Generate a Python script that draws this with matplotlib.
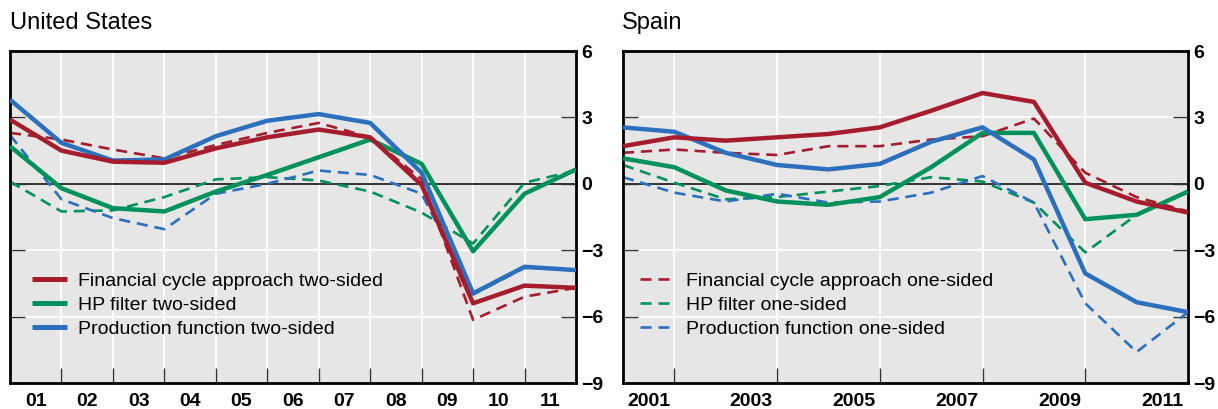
import matplotlib
matplotlib.use("Agg")
import matplotlib.pyplot as plt
from matplotlib.lines import Line2D

plt.rcParams['font.family'] = ['Liberation Sans', 'DejaVu Sans']

years = list(range(2001, 2013))  # data points at year boundaries
us_labels = ["01", "02", "03", "04", "05", "06", "07", "08", "09", "10", "11"]
es_labels = ["2001", "", "2003", "", "2005", "", "2007", "", "2009", "", "2011"]

# United States
us_fc_two = [2.9, 1.5, 1.0, 0.95, 1.6, 2.1, 2.45, 2.1, -0.05, -5.4, -4.6, -4.7]
us_fc_one = [2.3, 2.0, 1.55, 1.15, 1.75, 2.3, 2.75, 2.1, 0.2, -6.15, -5.1, -4.7]
us_hp_two = [1.7, -0.2, -1.1, -1.25, -0.35, 0.4, 1.2, 2.0, 0.9, -3.05, -0.45, 0.65]
us_hp_one = [0.1, -1.25, -1.2, -0.6, 0.2, 0.3, 0.15, -0.35, -1.3, -2.7, 0.05, 0.6]
us_pf_two = [3.8, 1.85, 1.05, 1.1, 2.15, 2.85, 3.15, 2.75, 0.5, -4.95, -3.75, -3.9]
us_pf_one = [2.2, -0.7, -1.55, -2.05, -0.45, 0.0, 0.6, 0.4, -0.45, -5.0, -3.8, -3.9]

# Spain
es_fc_two = [1.7, 2.1, 1.95, 2.1, 2.25, 2.55, 3.3, 4.1, 3.7, 0.05, -0.8, -1.3]
es_fc_one = [1.4, 1.55, 1.4, 1.3, 1.7, 1.7, 2.0, 2.15, 2.95, 0.5, -0.6, -1.25]
es_hp_two = [1.15, 0.75, -0.3, -0.8, -0.95, -0.6, 0.75, 2.3, 2.3, -1.6, -1.4, -0.35]
es_hp_one = [0.85, 0.05, -0.7, -0.6, -0.35, -0.1, 0.3, 0.1, -0.85, -3.1, -1.4, -0.35]
es_pf_two = [2.55, 2.35, 1.4, 0.85, 0.65, 0.9, 1.9, 2.55, 1.1, -4.05, -5.35, -5.8]
es_pf_one = [0.3, -0.4, -0.8, -0.45, -0.85, -0.8, -0.4, 0.35, -0.85, -5.4, -7.6, -5.8]

RED = "#a51d2d"
GREEN = "#00925a"
BLUE = "#2b6fbd"
BG = "#e6e6e6"

W, H = 1218, 409
fig = plt.figure(figsize=(W / 100, H / 100), dpi=100)

def make_ax(x0, x1, y0, y1):
    return fig.add_axes([x0 / W, 1 - y1 / H, (x1 - x0) / W, (y1 - y0) / H])

ax1 = make_ax(10, 576, 51, 383)
ax2 = make_ax(623, 1188, 51, 383)

def style(ax, labels, grid_every):
    ax.set_facecolor(BG)
    ax.set_xlim(2001, 2012)
    ax.set_ylim(-9, 6)
    for s in ax.spines.values():
        s.set_color("black")
        s.set_linewidth(2.0)
    for v in [3, -3, -6]:
        ax.axhline(v, color="white", lw=1.3, zorder=0.5)
    ax.axhline(0, color="#333333", lw=1.4, zorder=0.6)
    gx = [y for y in range(2002, 2012) if (y - 2002) % grid_every == 0]
    for x in gx:
        ax.axvline(x, color="white", lw=1.3, zorder=0.5)
    ax.set_xticks(gx)
    ax.set_xticklabels([])
    ax.tick_params(axis="x", which="major", direction="in", length=11, width=1.0, color="#333333")
    ax.set_xticks([y + 0.5 for y in range(2001, 2012)], minor=True)
    ax.set_xticklabels(labels, minor=True, fontsize=14, fontweight="bold")
    ax.tick_params(axis="x", which="minor", length=0, pad=7)
    ax.set_yticks([6, 3, 0, -3, -6, -9])
    ax.set_yticklabels(["6", "3", "0", "\u22123", "\u22126", "\u22129"], fontsize=14, fontweight="bold")
    ax.yaxis.tick_right()
    ax.tick_params(axis="y", which="major", direction="in", length=11, width=1.0,
                   color="#333333", left=True, right=True, labelleft=False, labelright=True, pad=4)

style(ax1, us_labels, 1)
style(ax2, es_labels, 2)

solid_kw = dict(lw=3.2, solid_capstyle="butt", solid_joinstyle="round")
dash_kw = dict(lw=1.9, dashes=(4.2, 2.6))

def draw(ax, fc2, fc1, hp2, hp1, pf2, pf1):
    ax.plot(years, hp1, color=GREEN, **dash_kw, zorder=2)
    ax.plot(years, pf1, color=BLUE, **dash_kw, zorder=2)
    ax.plot(years, fc1, color=RED, **dash_kw, zorder=2.1)
    ax.plot(years, hp2, color=GREEN, **solid_kw, zorder=3)
    ax.plot(years, pf2, color=BLUE, **solid_kw, zorder=3.1)
    ax.plot(years, fc2, color=RED, **solid_kw, zorder=3.2)

draw(ax1, us_fc_two, us_fc_one, us_hp_two, us_hp_one, us_pf_two, us_pf_one)
draw(ax2, es_fc_two, es_fc_one, es_hp_two, es_hp_one, es_pf_two, es_pf_one)

leg_kw = dict(loc="center left", frameon=False, fontsize=14, handlelength=1.8,
              handletextpad=0.55, labelspacing=0.32, borderaxespad=0, borderpad=0)
h1 = [Line2D([], [], color=c, lw=3.6, solid_capstyle="butt") for c in (RED, GREEN, BLUE)]
ax1.legend(h1, ["Financial cycle approach two-sided", "HP filter two-sided",
                "Production function two-sided"],
           bbox_to_anchor=(22 / 566, 0.235), **leg_kw)
h2 = [Line2D([], [], color=c, lw=1.9, dashes=(4.2, 2.6)) for c in (RED, GREEN, BLUE)]
ax2.legend(h2, ["Financial cycle approach one-sided", "HP filter one-sided",
                "Production function one-sided"],
           bbox_to_anchor=(17 / 565, 0.235), **leg_kw)

fig.text(10 / W, 1 - 23 / H, "United States", fontsize=17, va="center", ha="left")
fig.text(622 / W, 1 - 23 / H, "Spain", fontsize=17, va="center", ha="left")

fig.savefig("out.png", dpi=100)
